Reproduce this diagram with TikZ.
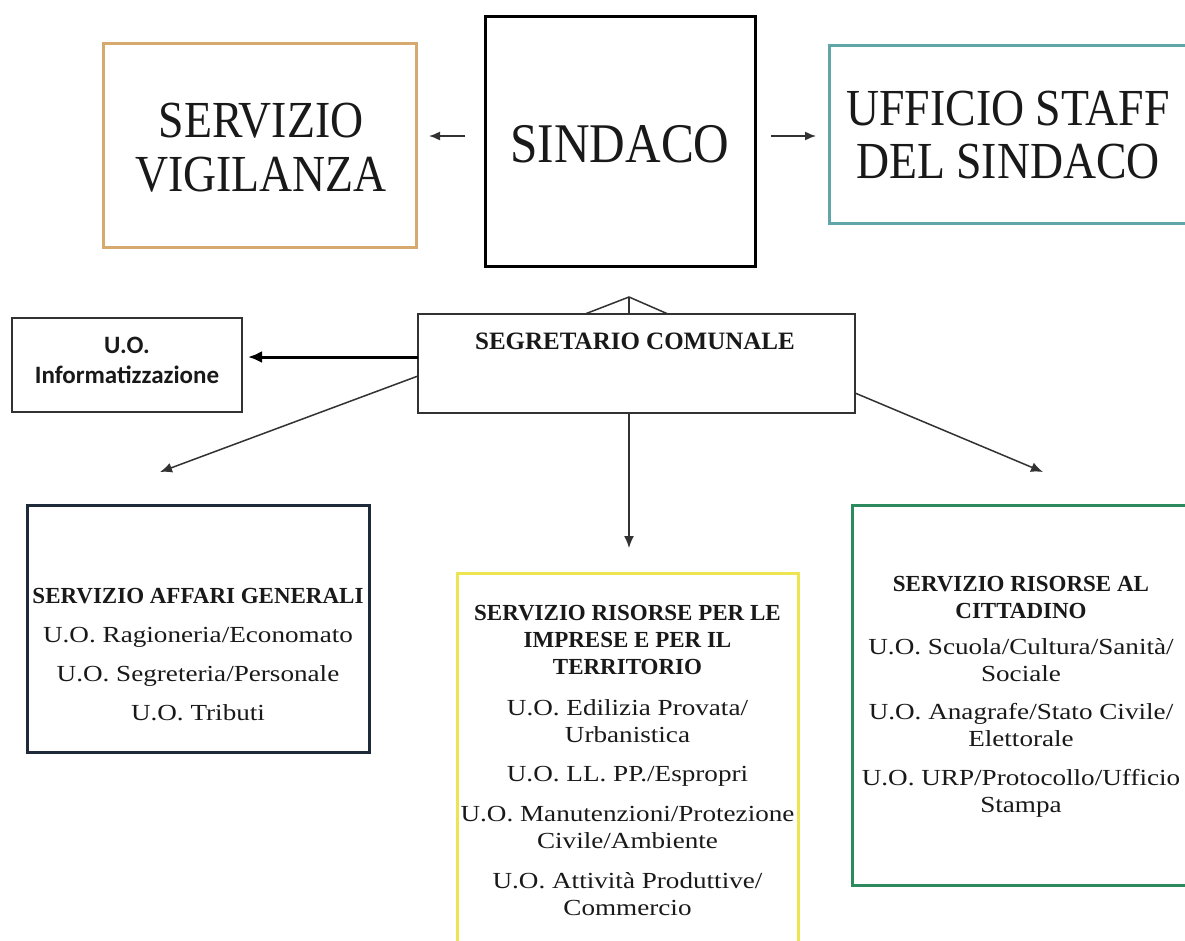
\documentclass[tikz,border=0pt]{standalone}
\usepackage{fontspec}
\setmainfont{Liberation Serif}
\newfontfamily\bigfont[FakeStretch=0.88]{Liberation Serif}
\newfontfamily\bodyfont[FakeStretch=1.18]{Liberation Serif}
\newfontfamily\infofont{Carlito}
\usetikzlibrary{arrows.meta}
\newcommand\mystack[1]{\vtop{\halign{\hfil##\hfil\cr#1\crcr}}}
\newcommand\boxtitle{\rmfamily\bfseries}
\definecolor{vigc}{RGB}{214,170,110}
\definecolor{uffc}{RGB}{95,165,170}
\definecolor{affc}{RGB}{30,42,58}
\definecolor{yelc}{RGB}{236,228,80}
\definecolor{grnc}{RGB}{45,138,95}
\definecolor{linec}{RGB}{50,50,50}
\tikzset{
  framebox/.style={draw, rectangle, line width=3pt, fill=white, inner sep=0pt, outer sep=0pt},
  thinbox/.style={draw=linec, rectangle, line width=1.4pt, fill=white, inner sep=0pt, outer sep=0pt},
  txt/.style={anchor=base, inner sep=0pt, outer sep=0pt, text=black!90},
  bigtxt/.style={txt, font=\bigfont\fontsize{52}{54}\selectfont},
  bodytxt/.style={txt, font=\bodyfont\fontsize{23}{27}\selectfont},
  thinarr/.style={draw=linec, line width=1.5pt, -{Latex[length=12pt,width=10pt]}},
  sidearr/.style={draw=linec, line width=1.5pt, -{Latex[length=11pt,width=9pt]}},
  thickarr/.style={draw=black, line width=3pt, -{Latex[length=14pt,width=12pt]}},
  roof/.style={draw=linec, line width=1.5pt}
}
\begin{document}
\begin{tikzpicture}[x=1pt,y=-1pt]
\fill[white] (0,0) rectangle (1185,940);
\useasboundingbox (0,0) rectangle (1185,940);

% top row
\node[framebox, draw=vigc, minimum width=313, minimum height=204] (vig) at (259.5,145) {};
\node[framebox, draw=black, minimum width=270, minimum height=250] (sind) at (620,141) {};
\node[framebox, draw=uffc, minimum width=361, minimum height=178] (uff) at (1009.5,134) {};

\node[bigtxt] (vigt) at (261,137) {\mystack{SERVIZIO\cr VIGILANZA}};
\node[txt, font=\bigfont\fontsize{56}{58}\selectfont] (sindt) at (620,162) {SINDACO};
\node[bigtxt, font=\bigfont\fontsize{52}{53}\selectfont] (ufft) at (1008,125) {\mystack{UFFICIO STAFF\cr DEL SINDACO}};

% middle row
\node[thinbox, minimum width=437, minimum height=99] (seg) at (636.5,363.5) {};
\node[txt, font=\rmfamily\bfseries\fontsize{25}{28}\selectfont] (segt) at (635,349) {SEGRETARIO COMUNALE};
\node[thinbox, minimum width=230, minimum height=94] (info) at (127,365) {};
\node[txt, font=\infofont\bfseries\fontsize{25}{30}\selectfont] (infot) at (127,353) {\mystack{U.O.\cr Informatizzazione}};

% bottom row
\node[framebox, draw=affc, minimum width=342, minimum height=247] (aff) at (198,628.5) {};
\node[framebox, draw=yelc, minimum width=341, minimum height=392] (yel) at (627.5,769) {};
\node[framebox, draw=grnc, minimum width=338, minimum height=380] (grn) at (1021,695) {};

\node[bodytxt] (afft) at (198,603) {\mystack{%
  \boxtitle SERVIZIO AFFARI GENERALI\cr\noalign{\vskip 12pt}
  U.O. Ragioneria/Economato\cr\noalign{\vskip 12pt}
  U.O. Segreteria/Personale\cr\noalign{\vskip 12pt}
  U.O. Tributi}};

\node[bodytxt] (yelt) at (627.5,620) {\mystack{%
  \boxtitle SERVIZIO RISORSE PER LE\cr
  \boxtitle IMPRESE E PER IL\cr
  \boxtitle TERRITORIO\cr\noalign{\vskip 14pt}
  U.O. Edilizia Provata/\cr
  Urbanistica\cr\noalign{\vskip 12pt}
  U.O. LL. PP./Espropri\cr\noalign{\vskip 13pt}
  U.O. Manutenzioni/Protezione\cr
  Civile/Ambiente\cr\noalign{\vskip 13pt}
  U.O. Attività Produttive/\cr
  Commercio}};

\node[bodytxt] (grnt) at (1021,591) {\mystack{%
  \boxtitle SERVIZIO RISORSE AL\cr
  \boxtitle CITTADINO\cr\noalign{\vskip 9pt}
  U.O. Scuola/Cultura/Sanità/\cr
  Sociale\cr\noalign{\vskip 11pt}
  U.O. Anagrafe/Stato Civile/\cr
  Elettorale\cr\noalign{\vskip 12pt}
  U.O. URP/Protocollo/Ufficio\cr
  Stampa}};

% connectors
\coordinate (vigend) at (429,136);
\coordinate (uffend) at (816,136);
\draw[sidearr] ([xshift=-20pt,yshift=5pt]sind.west) -- (vigend);
\draw[sidearr] ([xshift=16pt,yshift=5pt]sind.east) -- (uffend);

\coordinate (apex) at (629,297);
\draw[roof] ([xshift=-51.5pt]seg.north) -- (apex) -- ([xshift=31.5pt]seg.north);
\draw[roof] (apex) -- ([xshift=-7.5pt]seg.north);

\draw[thickarr] ([yshift=6.5pt]seg.west) -- ([xshift=6pt,yshift=8pt]info.east);

\coordinate (affend) at (160,472);
\coordinate (yelend) at (629,548);
\coordinate (grnend) at (1043,472);
\draw[thinarr] ([yshift=-12.5pt]seg.west) -- (affend);
\draw[thinarr] ([xshift=-7.5pt]seg.south) -- (yelend);
\draw[thinarr] ([yshift=-29.5pt]seg.east) -- (grnend);
\end{tikzpicture}
\end{document}
